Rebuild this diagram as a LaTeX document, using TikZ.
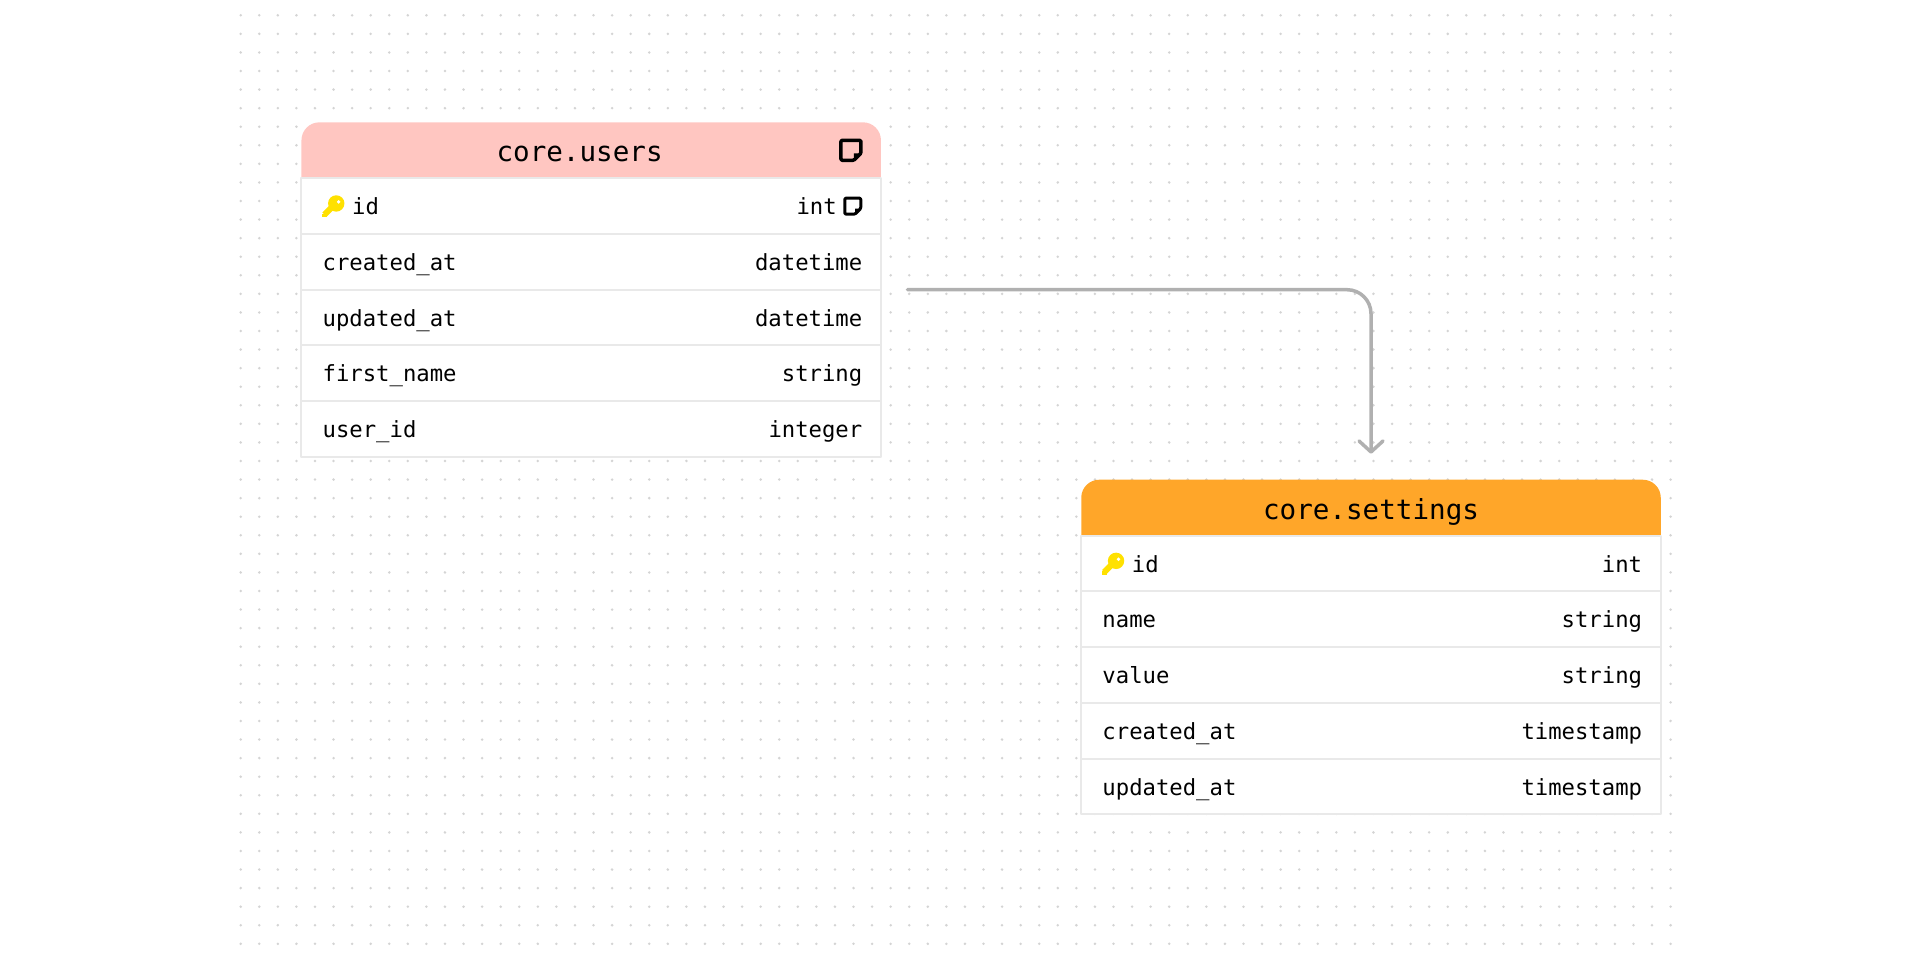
\documentclass[tikz,border=0pt]{standalone}
\usepackage{fontspec}
\usetikzlibrary{positioning,arrows.meta}
\newfontfamily\dbfont{DejaVu Sans Mono}
\definecolor{usershead}{HTML}{FFC6C1}
\definecolor{settingshead}{HTML}{FFA629}
\definecolor{rowline}{HTML}{E9E9E9}
\definecolor{griddot}{HTML}{D4D4D4}
\definecolor{relgray}{HTML}{B0B0B0}
\definecolor{keygold}{HTML}{FFE100}
\tikzset{
	headbox/.style={minimum width=5.795cm,minimum height=.56cm,inner sep=0pt,outer sep=0pt},
	rowbox/.style={draw=rowline,line width=.02cm,fill=white,minimum width=5.795cm,minimum height=.557cm,inner sep=0pt,outer sep=0pt},
	tabletitle/.style={inner sep=0pt,font=\dbfont\fontsize{7.85pt}{9pt}\selectfont,text height=.75em,text depth=.2em},
	coltext/.style={inner sep=0pt,font=\dbfont\fontsize{6.33pt}{8pt}\selectfont,text height=.75em,text depth=.2em},
	relline/.style={draw=relgray,line width=.035cm,line cap=round,rounded corners=.24cm,-{Straight Barb[length=.11cm,width=.24cm,line width=.035cm,round]}},
	keymark/.pic={
		\fill[keygold] (.033,.027) circle (.082);
		\draw[keygold,line width=.06cm] (-.085,-.085)--(.02,.02);
		\fill[keygold] (-.112,-.112) rectangle (-.06,-.075);
		\fill[white] (.057,.043) circle (.019);
	},
	notemark/.pic={
		\draw[line width=#1,rounded corners=.012cm] (.03,-.1)--(-.1,-.1)--(-.1,.1)--(.1,.1)--(.1,-.03)--cycle;
		\fill (.03,-.1)--(.03,-.03)--(.1,-.03)--cycle;
	}
}
\begin{document}
\begin{tikzpicture}[line join=round]
	\useasboundingbox (0,0) rectangle (19.2,9.6);
	% dot grid
	\foreach \i in {0,...,77}
	\foreach \j in {0,...,50}
	\fill[griddot] ({2.407+.1857*\i},{9.447-.1857*\j}) circle (.014);
	% users table
	\node[headbox] (users0) at (5.912,8.097) {};
	\fill[usershead] (users0.south west) [rounded corners=.18cm] |- (users0.north east) [sharp corners] |- cycle;
	\node[tabletitle,xshift=-.116cm,yshift=-.02cm] (userstitle) at (users0) {core.users};
	\pic at ([xshift=-.3cm]users0.east) {notemark=.035cm};
	\foreach \cname/\ctype/\pl/\pr [count=\i,remember=\i as \j (initially 0)] in {id/int/.5/.435,created\_at/datetime/.205/.18,updated\_at/datetime/.205/.18,first\_name/string/.205/.18,user\_id/integer/.205/.18}{
		\node[rowbox,below=0pt of users\j] (users\i) {};
		\node[coltext,right=\pl cm of users\i.west,yshift=.01cm] (usersname\i) {\cname};
		\node[coltext,left=\pr cm of users\i.east,yshift=.01cm] (userstype\i) {\ctype};
	}
	\pic at ([xshift=.315cm]users1.west) {keymark};
	\pic[scale=.8] at ([xshift=-.282cm]users1.east) {notemark=.03cm};
	% settings table
	\node[headbox] (settings0) at (13.71,4.523) {};
	\fill[settingshead] (settings0.south west) [rounded corners=.18cm] |- (settings0.north east) [sharp corners] |- cycle;
	\node[tabletitle,yshift=-.02cm] (settingstitle) at (settings0) {core.settings};
	\foreach \cname/\ctype/\pl [count=\i,remember=\i as \j (initially 0)] in {id/int/.5,name/string/.205,value/string/.205,created\_at/timestamp/.205,updated\_at/timestamp/.205}{
		\node[rowbox,below=0pt of settings\j] (settings\i) {};
		\node[coltext,right=\pl cm of settings\i.west,yshift=.01cm] (settingsname\i) {\cname};
		\node[coltext,left=.18cm of settings\i.east,yshift=.01cm] (settingstype\i) {\ctype};
	}
	\pic at ([xshift=.315cm]settings1.west) {keymark};
	% relation
	\coordinate[right=.265cm of users2.south east] (relstart);
	\coordinate[above=.26cm of settings0.north] (relend);
	\draw[relline] (relstart) -| (relend);
\end{tikzpicture}
\end{document}
